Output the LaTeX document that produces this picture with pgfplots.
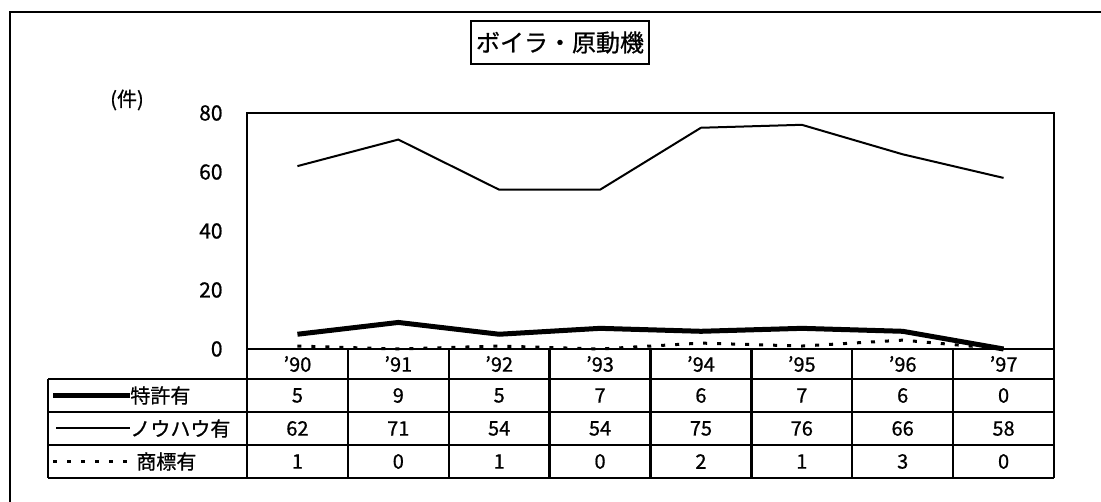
\documentclass[border=0pt]{standalone}
\usepackage{pgfplots}
\pgfplotsset{compat=1.18}
\usepackage{pgfplotstable}
\usepackage{fontspec}
\setmainfont{Noto Sans CJK JP}[FakeBold=0.8]

\pgfplotstableread{
x yr patent knowhow trademark
1 '90 5 62 1
2 '91 9 71 0
3 '92 5 54 1
4 '93 7 54 0
5 '94 6 75 2
6 '95 7 76 1
7 '96 6 66 3
8 '97 0 58 0
}\data

\begin{document}
\begin{tikzpicture}[x=0.5pt,y=0.5pt,font=\fontsize{10}{12}\selectfont]
\useasboundingbox (0,0) rectangle (1101,502);
% outer frame (only top and left edges visible)
\draw[line width=1.2pt] (10,0) -- (10,490) -- (1101,490);
\node[draw,line width=1.2pt,minimum width=89pt,minimum height=21.5pt,inner sep=0pt,
  font=\fontsize{12}{14}\selectfont] at (560,459.5) {ボイラ・原動機};
\node at (127,402) {(件)};

\begin{axis}[at={(123.5pt,76.5pt)},anchor=south west,scale only axis,
  width=403.5pt,height=118pt,
  xmin=0.5,xmax=8.5,ymin=0,ymax=80,
  ytick={0,20,...,80},xtick=\empty,major tick length=0pt,
  axis line style={line width=1.2pt},
  yticklabel style={font=\fontsize{10.5}{12}\selectfont,xshift=-8.7pt},
  /pgf/number format/assume math mode=true,clip=false]
\addplot[black,line width=2.5pt] table[x=x,y=patent]{\data};
\addplot[black,line width=1pt] table[x=x,y=knowhow]{\data};
\addplot[black,line width=1.5pt,dash pattern=on 2pt off 5pt] table[x=x,y=trademark]{\data};
\end{axis}

% data table
\begin{scope}[line width=1.2pt]
\foreach \k in {0,...,8} \draw ({247+\k*100.875},24) -- ({247+\k*100.875},153);
\foreach \yy in {123,90,57,24} \draw (48,\yy) -- (1054,\yy);
\draw (48,24) -- (48,123);
\end{scope}
\foreach \i in {0,...,7} {
  \pgfplotstablegetelem{\i}{yr}\of\data
  \node at ({247+(\i+0.5)*100.875},138) {\pgfplotsretval};
  \pgfplotstablegetelem{\i}{patent}\of\data
  \node at ({247+(\i+0.5)*100.875},106.5) {\pgfplotsretval};
  \pgfplotstablegetelem{\i}{knowhow}\of\data
  \node at ({247+(\i+0.5)*100.875},73.5) {\pgfplotsretval};
  \pgfplotstablegetelem{\i}{trademark}\of\data
  \node at ({247+(\i+0.5)*100.875},40.5) {\pgfplotsretval};
}
% legend keys
\draw[line width=2.5pt] (53,106.5) -- (130,106.5);
\node[anchor=west,inner sep=0pt] at (130,106.5) {特許有};
\draw[line width=1pt] (56,73.5) -- (130,73.5);
\node[anchor=west,inner sep=0pt] at (130,73.5) {ノウハウ有};
\draw[line width=1.5pt,dash pattern=on 2pt off 5pt] (53,40.5) -- (135,40.5);
\node[anchor=west,inner sep=0pt] at (136,40.5) {商標有};
\end{tikzpicture}
\end{document}
